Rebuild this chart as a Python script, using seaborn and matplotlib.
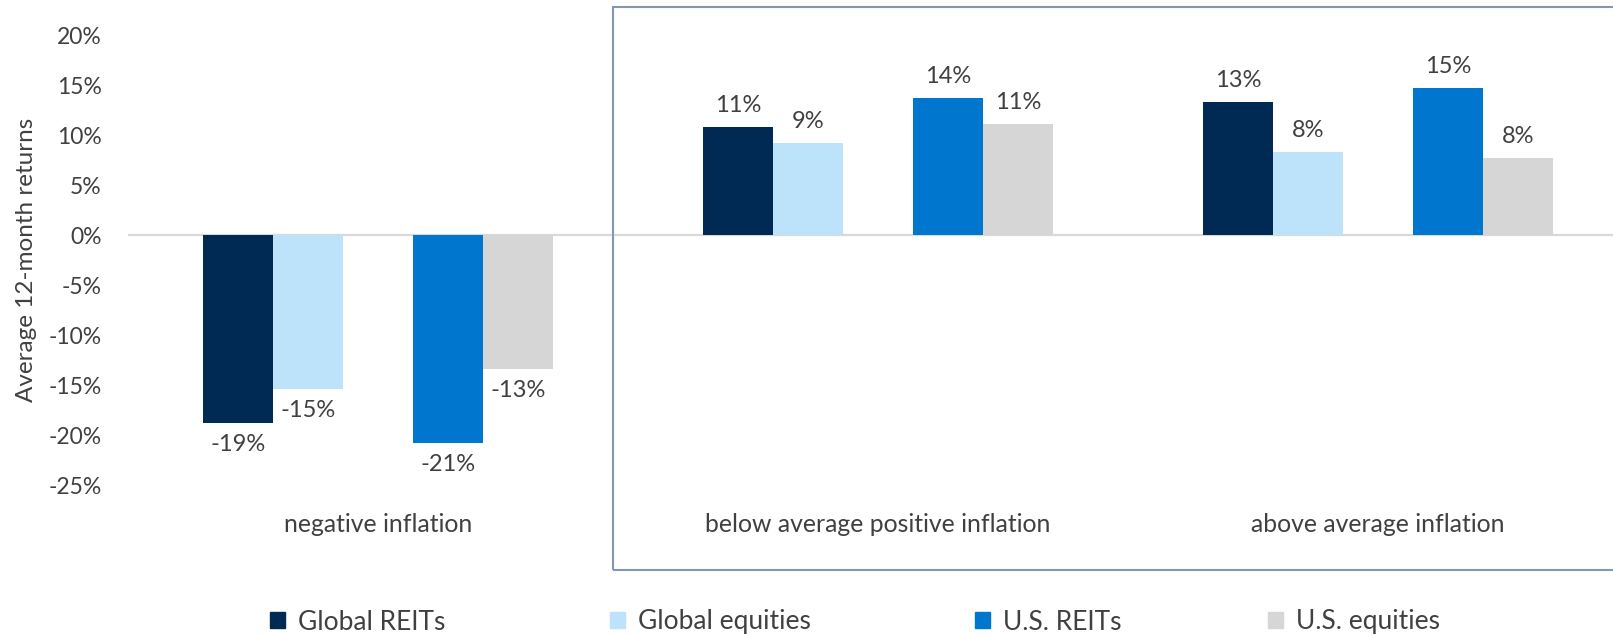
import pandas as pd
import matplotlib.pyplot as plt
import matplotlib.patches as mpatches
import seaborn as sns

# inflation regimes on the x axis
regimes = ["negative inflation", "below average positive inflation", "above average inflation"]

# average 12-month returns, %
global_reits    = [-18.8, 10.8, 13.3]
global_equities = [-15.4, 9.2, 8.3]
us_reits        = [-20.8, 13.7, 14.7]
us_equities     = [-13.4, 11.1, 7.7]

series = ["Global REITs", "Global equities", "U.S. REITs", "U.S. equities"]
colors = ["#002A54", "#BDE3FA", "#0076CE", "#D6D6D6"]
yticks = [20, 15, 10, 5, 0, -5, -10, -15, -20, -25]

sns.set_theme(style="white")
plt.rcParams['font.family'] = ['Lato', 'DejaVu Sans']
text_color = "#404040"

rows = []
for name, vals in zip(series, [global_reits, global_equities, us_reits, us_equities]):
    for regime, v in zip(regimes, vals):
        rows.append({"regime": regime, "series": name, "value": v})
df = pd.DataFrame(rows)

# a blank hue level keeps the gap between the two pairs of bars
spacer = " "
hue_order = series[:2] + [spacer] + series[2:]
palette = dict(zip(series, colors))
palette[spacer] = "white"

fig = plt.figure(figsize=(16.13, 6.38), dpi=100)
ax = fig.add_axes([128 / 1613, 1 - 485 / 638, 1 - 128 / 1613, 450 / 638])

sns.barplot(data=df, x="regime", y="value", hue="series", hue_order=hue_order,
            palette=palette, saturation=1, width=0.7, errorbar=None, linewidth=0,
            legend=False, ax=ax)

for cont in ax.containers:
    labels = [f"{v:.0f}%" for v in cont.datavalues]
    ax.bar_label(cont, labels=labels, padding=8, fontsize=17, color=text_color)

ax.axhline(0, color="#D9D9D9", lw=1.6, zorder=0)
ax.set_xlim(-0.5, -0.5 + 1485 / 500)
ax.set_ylim(-25, 20)
ax.set_yticks(yticks)
ax.set_yticklabels([f"{t}%" for t in yticks])
ax.set_xlabel("")
ax.set_ylabel("Average 12-month returns", fontsize=17.5, color=text_color, labelpad=8)
ax.tick_params(axis="y", length=0, pad=19, labelsize=16.5, labelcolor=text_color)
ax.tick_params(axis="x", length=0, pad=20, labelsize=17.8, labelcolor=text_color)
for s in ax.spines.values():
    s.set_visible(False)
ax.set_facecolor("none")

# frame around the two positive-inflation regimes
box = mpatches.Rectangle((613 / 1613, 1 - 570 / 638), 1.0, 563 / 638,
                         transform=fig.transFigure, fill=False,
                         edgecolor="#8497B0", lw=1.5, zorder=5)
fig.patches.append(box)

# legend entries, spaced as in the original
legend_x = [270, 610, 975, 1268]
for name, col, lx in zip(series, colors, legend_x):
    handle = mpatches.Patch(color=col, label=name)
    fig.legend(handles=[handle], loc="center left", bbox_to_anchor=(lx / 1613, 1 - 622 / 638),
               frameon=False, fontsize=19, handlelength=0.57, handleheight=0.57,
               handletextpad=0.5, labelcolor=text_color, borderpad=0, borderaxespad=0)

fig.savefig("out.png", dpi=100)
